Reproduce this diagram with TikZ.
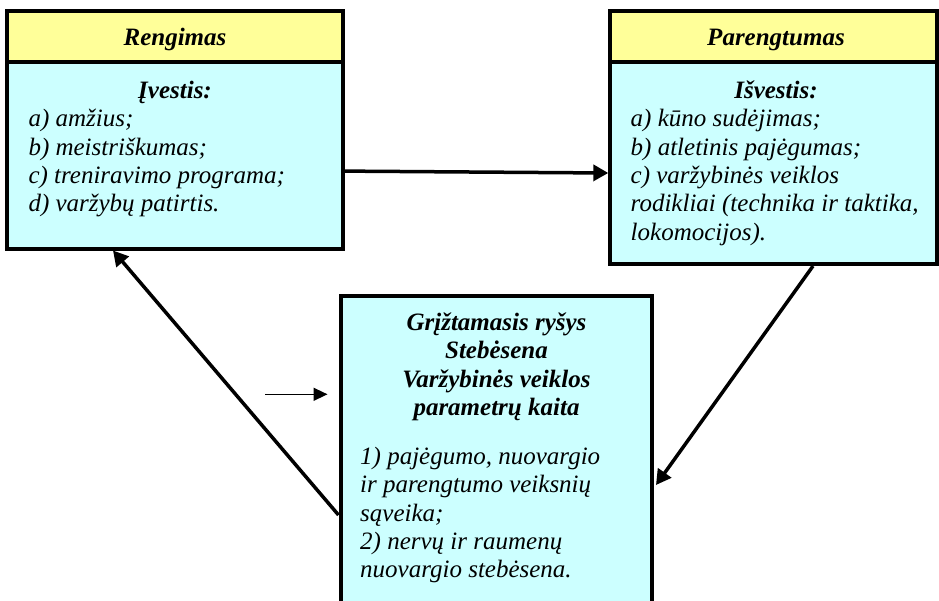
\documentclass[tikz,border=0pt]{standalone}
\usepackage{fontspec}
\setmainfont{Liberation Serif}[
  BoldFont={Liberation Serif Bold},
  ItalicFont={Liberation Serif Italic},
  BoldItalicFont={Liberation Serif Bold Italic}]
\usetikzlibrary{arrows.meta}
\definecolor{hdryellow}{HTML}{FFFF99}
\definecolor{bodycyan}{HTML}{CCFFFF}
\begin{document}
\begin{tikzpicture}[x=1pt,y=-1pt,
  box/.style={draw=black, line width=4pt, rectangle, inner sep=0pt},
  hdrbox/.style={box, fill=hdryellow},
  bodybox/.style={box, fill=bodycyan},
  ttl/.style={font=\rmfamily\fontsize{25}{28}\selectfont\bfseries\itshape, inner sep=0pt, anchor=base},
  item/.style={font=\rmfamily\fontsize{25}{28}\selectfont\itshape, inner sep=0pt, anchor=base west},
  conn/.style={line width=3.5pt, -{Triangle[length=15pt,width=16pt]}},
  thinconn/.style={line width=1.5pt, -{Triangle[length=14pt,width=13pt]}}]

\fill[white] (0,0) rectangle (939,600);
\useasboundingbox (0,0) rectangle (939,600);

% left block: preparation
\node[hdrbox, minimum width=336pt, minimum height=50.9pt] (lh) at (175,36.25) {};
\node[bodybox, minimum width=336pt, minimum height=186.8pt] (lb) at (175,155.1) {};
% right block: readiness
\node[hdrbox, minimum width=326.2pt, minimum height=51.5pt] (rh) at (773.4,36.25) {};
\node[bodybox, minimum width=326.2pt, minimum height=202pt] (rb) at (773.4,163) {};
% lower block: feedback
\node[bodybox, minimum width=311.5pt, minimum height=324pt] (bb) at (496.25,458) {};

% texts of the left block
\node[ttl] (lt) at (175,45) {Rengimas};
\node[ttl] (li) at (175,98.5) {Įvestis:};
\node[item] (l1) at (28.3,126.7) {a) amžius;};
\node[item] (l2) at (28.3,155) {b) meistriškumas;};
\node[item] (l3) at (28.3,183.3) {c) treniravimo programa;};
\node[item] (l4) at (28.3,211.7) {d) varžybų patirtis.};

% texts of the right block
\node[ttl] (rt) at (776,45) {Parengtumas};
\node[ttl] (ri) at (776,98.5) {Išvestis:};
\node[item] (r1) at (630.5,126.7) {a) kūno sudėjimas;};
\node[item] (r2) at (630.5,155) {b) atletinis pajėgumas;};
\node[item] (r3) at (630.5,183.3) {c) varžybinės veiklos};
\node[item] (r4) at (630.5,211.7) {rodikliai (technika ir taktika,};
\node[item] (r5) at (630.5,240) {lokomocijos).};

% texts of the lower block
\node[ttl] (b1) at (496.5,330) {Grįžtamasis ryšys};
\node[ttl] (b2) at (496.5,358.6) {Stebėsena};
\node[ttl] (b3) at (496.5,387.2) {Varžybinės veiklos};
\node[ttl] (b4) at (496.5,415.8) {parametrų kaita};
\node[item] (b5) at (360,464.3) {1) pajėgumo, nuovargio};
\node[item] (b6) at (360,492.7) {ir parengtumo veiksnių};
\node[item] (b7) at (360,521) {sąveika;};
\node[item] (b8) at (360,549.3) {2) nervų ir raumenų};
\node[item] (b9) at (360,577.7) {nuovargio stebėsena.};

% connectors
\draw[conn] ([yshift=-16pt]lb.east) -- ([yshift=-10pt]rb.west);
\draw[conn] ([xshift=39.6pt]rb.south) -- ([xshift=2pt,yshift=-27pt]bb.east);
\draw[conn] ([yshift=-57pt]bb.west) -- ([xshift=-62pt]lb.south);
\coordinate (inlet) at (265,394.3);
\draw[thinconn] (inlet) -- ([xshift=-11pt,yshift=63.7pt]bb.west);
\end{tikzpicture}
\end{document}
